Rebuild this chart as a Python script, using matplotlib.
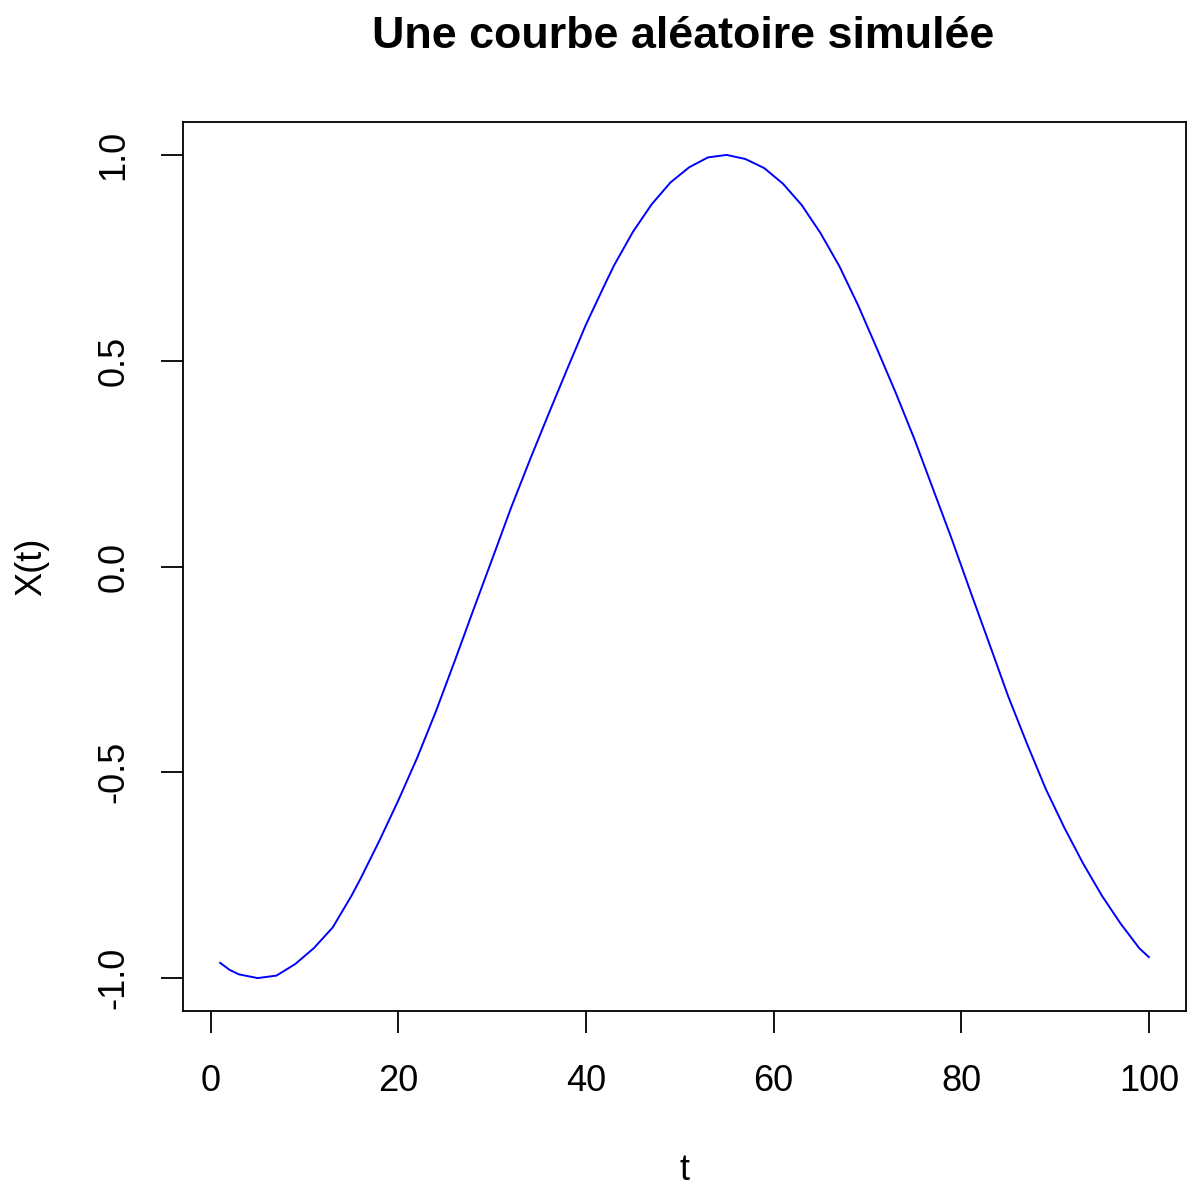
import matplotlib
matplotlib.use("Agg")
import matplotlib.pyplot as plt

t_values = [1, 2, 3, 5, 7, 9, 11, 13, 15, 16, 18, 20, 22, 24, 26, 28, 30, 32, 34, 36,
            38, 40, 42, 43, 45, 47, 49, 51, 53, 55, 57, 59, 61, 63, 65, 67, 69, 71,
            73, 75, 77, 79, 81, 83, 85, 87, 89, 91, 93, 95, 97, 99, 100]
x_values = [-0.963, -0.980, -0.991, -1.000, -0.994, -0.966, -0.927, -0.877, -0.800, -0.757,
            -0.665, -0.568, -0.465, -0.352, -0.230, -0.105, 0.018, 0.142, 0.258, 0.370,
            0.480, 0.588, 0.685, 0.732, 0.813, 0.880, 0.933, 0.970, 0.994, 1.000,
            0.990, 0.968, 0.930, 0.878, 0.810, 0.730, 0.635, 0.530,
            0.423, 0.310, 0.188, 0.066, -0.062, -0.188, -0.315, -0.430, -0.540,
            -0.635, -0.722, -0.800, -0.868, -0.928, -0.949]
xticks = [0, 20, 40, 60, 80, 100]
yticks = [-1.0, -0.5, 0.0, 0.5, 1.0]
ytick_labels = ["-1.0", "-0.5", "0.0", "0.5", "1.0"]

plt.rcParams['font.family'] = ['Liberation Sans', 'DejaVu Sans']

W, H = 1187, 1188
fig = plt.figure(figsize=(W / 100, H / 100), dpi=100)
ax = fig.add_axes([183 / W, 177 / H, 1003 / W, 889 / H])

ax.plot(t_values, x_values, color='blue', lw=1.4, solid_joinstyle='round')

xr = max(t_values) - min(t_values)
ax.set_xlim(min(t_values) - 0.04 * xr, max(t_values) + 0.04 * xr)
yr = max(x_values) - min(x_values)
ax.set_ylim(min(x_values) - 0.04 * yr, max(x_values) + 0.04 * yr)

ax.set_xticks(xticks)
ax.set_xticklabels([str(v) for v in xticks])
ax.set_yticks(yticks)
ax.set_yticklabels(ytick_labels, rotation=90, va='center')

ax.tick_params(direction='out', length=16, width=1.3, labelsize=26, color='black')
ax.tick_params(axis='x', pad=22)
ax.tick_params(axis='y', pad=21)
for s in ax.spines.values():
    s.set_linewidth(1.3)

fig.text(684 / W, 1 - 1170 / H, "t", fontsize=26, ha='center', va='center')
fig.text(32 / W, 1 - 567 / H, "X(t)", fontsize=26, ha='center', va='center', rotation=90)
fig.text(683 / W, 1 - 36 / H, "Une courbe aléatoire simulée", fontsize=32.3,
         fontweight='bold', ha='center', va='center')

fig.savefig("out.png", dpi=100)
